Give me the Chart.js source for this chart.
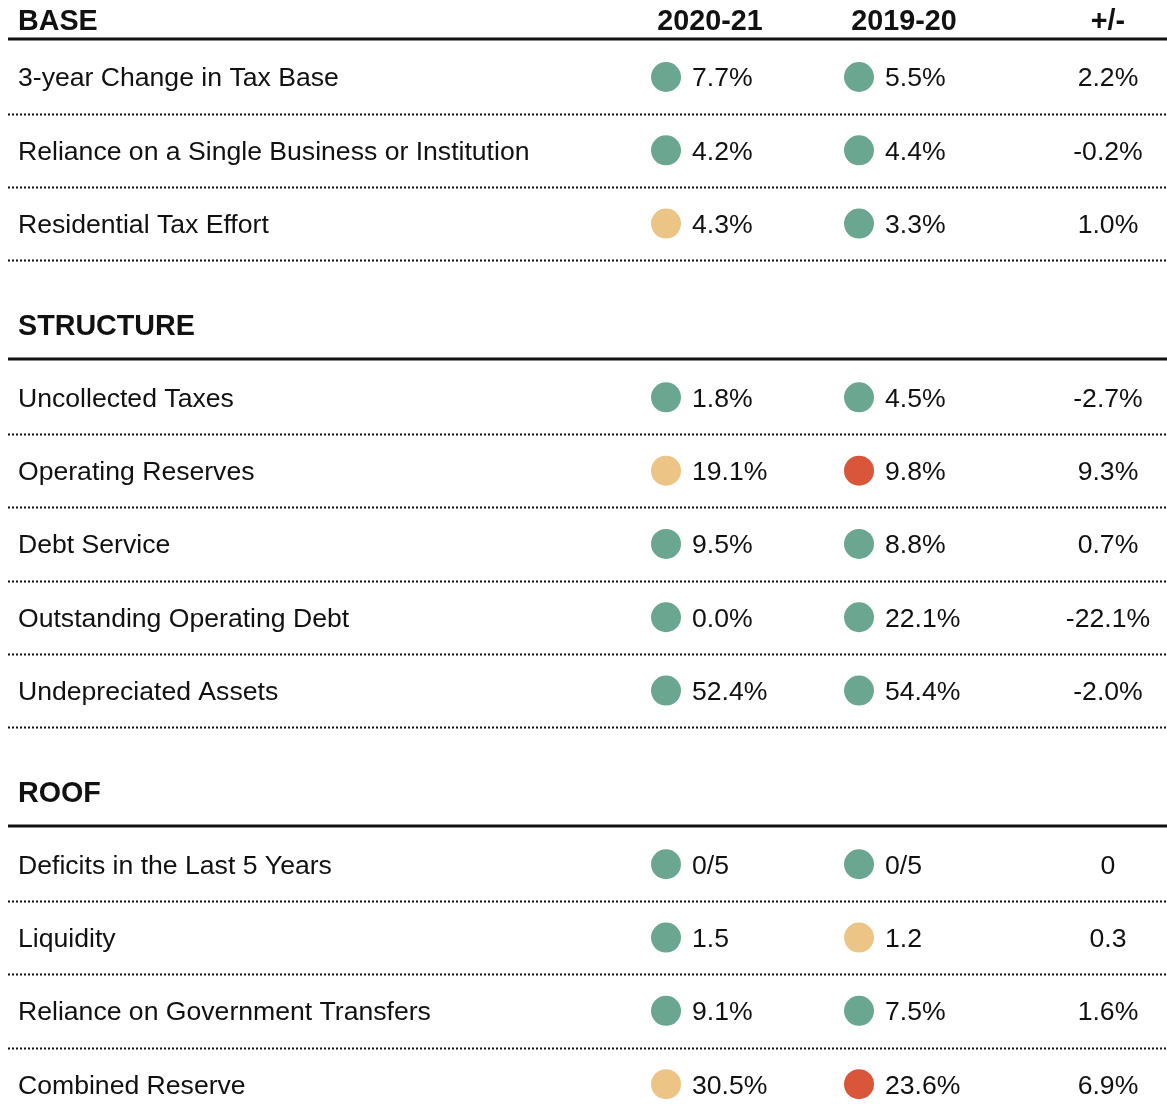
<!DOCTYPE html>
<html>
<head>
<meta charset="utf-8">
<script src="https://cdn.jsdelivr.net/npm/chart.js@4"></script>
<style>
  html, body { margin: 0; padding: 0; background: #fff; overflow: hidden; }
  #wrap { width: 1167px; height: 1117px; position: relative; }
  #grafica { display: block; }
  .fontwarm { position: absolute; left: -9999px; top: 0; font-family: "Liberation Sans"; }
</style>
</head>
<body>
<div class="fontwarm">Aa <b>Aa</b></div>
<div id="wrap"><canvas id="grafica"></canvas></div>
<script>
// Table data
const sections = ["BASE", "STRUCTURE", "ROOF"];
const sectionSizes = [3, 5, 4];
const columns = ["2020-21", "2019-20", "+/-"];
const labels = [
    "3-year Change in Tax Base",
    "Reliance on a Single Business or Institution",
    "Residential Tax Effort",
    "Uncollected Taxes",
    "Operating Reserves",
    "Debt Service",
    "Outstanding Operating Debt",
    "Undepreciated Assets",
    "Deficits in the Last 5 Years",
    "Liquidity",
    "Reliance on Government Transfers",
    "Combined Reserve"
];
const current = ["7.7%", "4.2%", "4.3%", "1.8%", "19.1%", "9.5%", "0.0%", "52.4%", "0/5", "1.5", "9.1%", "30.5%"];
const previous = ["5.5%", "4.4%", "3.3%", "4.5%", "9.8%", "8.8%", "22.1%", "54.4%", "0/5", "1.2", "7.5%", "23.6%"];
const change = ["2.2%", "-0.2%", "1.0%", "-2.7%", "9.3%", "0.7%", "-22.1%", "-2.0%", "0", "0.3", "1.6%", "6.9%"];
const currentStatus = ["g", "g", "y", "g", "y", "g", "g", "g", "g", "g", "g", "y"];
const previousStatus = ["g", "g", "g", "g", "r", "g", "g", "g", "g", "y", "g", "r"];

const statusColors = { g: "#6aa690", y: "#ebc486", r: "#d9563a" };
const FONT = '"Liberation Sans", Arial, sans-serif';
const SECTION_GAP = 1.37;
const TEXT_NUDGE = 2; // middle baseline sits a bit high

// row position: one unit per row, extra space before each section
let sectionOf = [];
sectionSizes.forEach((n, s) => { for (let k = 0; k < n; k++) sectionOf.push(s); });
const rowY = i => i + sectionOf[i] * SECTION_GAP;
const firstRow = sectionSizes.map((n, s) => sectionSizes.slice(0, s).reduce((a, b) => a + b, 0));

const tablePlugin = {
    id: "tableText",
    afterDatasetsDraw(chart) {
        const ctx = chart.ctx;
        const xs = chart.scales.x, ys = chart.scales.y;
        const left = chart.chartArea.left + 8, right = chart.chartArea.right;
        const c1 = xs.getPixelForValue(1), c2 = xs.getPixelForValue(2);
        const c3 = right - 59;
        ctx.save();
        ctx.fillStyle = "#111";
        ctx.strokeStyle = "#111";
        ctx.textBaseline = "middle";

        // section headers and thick rules
        sections.forEach((name, s) => {
            const r0 = rowY(firstRow[s]);
            const lineY = Math.round(ys.getPixelForValue(r0 - 0.52));
            ctx.setLineDash([]);
            ctx.lineWidth = 3;
            ctx.beginPath();
            ctx.moveTo(left, lineY);
            ctx.lineTo(right, lineY);
            ctx.stroke();
            const hy = Math.max(ys.getPixelForValue(r0 - 0.99), 20) + TEXT_NUDGE;
            ctx.font = "bold 28.7px " + FONT;
            ctx.textAlign = "left";
            ctx.fillText(name, 18, hy);
            if (s === 0) {
                ctx.textAlign = "center";
                ctx.fillText(columns[0], c1 + 44, hy);
                ctx.fillText(columns[1], c2 + 45, hy);
                ctx.fillText(columns[2], c3, hy);
            }
        });

        // rows
        labels.forEach((lab, i) => {
            const y = ys.getPixelForValue(rowY(i)) + TEXT_NUDGE;
            ctx.font = "26.6px " + FONT;
            ctx.textAlign = "left";
            ctx.fillText(lab, 18, y);
            ctx.fillText(current[i], c1 + 26, y);
            ctx.fillText(previous[i], c2 + 26, y);
            ctx.textAlign = "center";
            ctx.fillText(change[i], c3, y);

            const dy = Math.round(ys.getPixelForValue(rowY(i) + 0.5)) + 0.5;
            ctx.lineWidth = 2;
            ctx.setLineDash([2, 2]);
            ctx.beginPath();
            ctx.moveTo(left, dy);
            ctx.lineTo(right, dy);
            ctx.stroke();
        });
        ctx.restore();
    }
};

function drawChart() {
    const ctx = document.getElementById("grafica").getContext("2d");
    new Chart(ctx, {
        type: "scatter",
        data: {
            datasets: [
                {
                    label: columns[0],
                    data: labels.map((l, i) => ({ x: 1, y: rowY(i) })),
                    backgroundColor: currentStatus.map(s => statusColors[s]),
                    pointRadius: 15,
                    borderWidth: 0
                },
                {
                    label: columns[1],
                    data: labels.map((l, i) => ({ x: 2, y: rowY(i) })),
                    backgroundColor: previousStatus.map(s => statusColors[s]),
                    pointRadius: 15,
                    borderWidth: 0
                }
            ]
        },
        options: {
            responsive: true,
            maintainAspectRatio: false,
            animation: false,
            layout: { padding: 0, autoPadding: false },
            plugins: { legend: { display: false }, tooltip: { enabled: false } },
            scales: {
                x: { type: "linear", display: false, min: -2.4508, max: 3.5958 },
                y: { type: "linear", display: false, reverse: true, min: -1.0505, max: 14.188 }
            }
        },
        plugins: [tablePlugin]
    });
}

Promise.all([
    document.fonts.load('26px "Liberation Sans"'),
    document.fonts.load('bold 28px "Liberation Sans"')
]).then(drawChart, drawChart);
</script>
</body>
</html>
